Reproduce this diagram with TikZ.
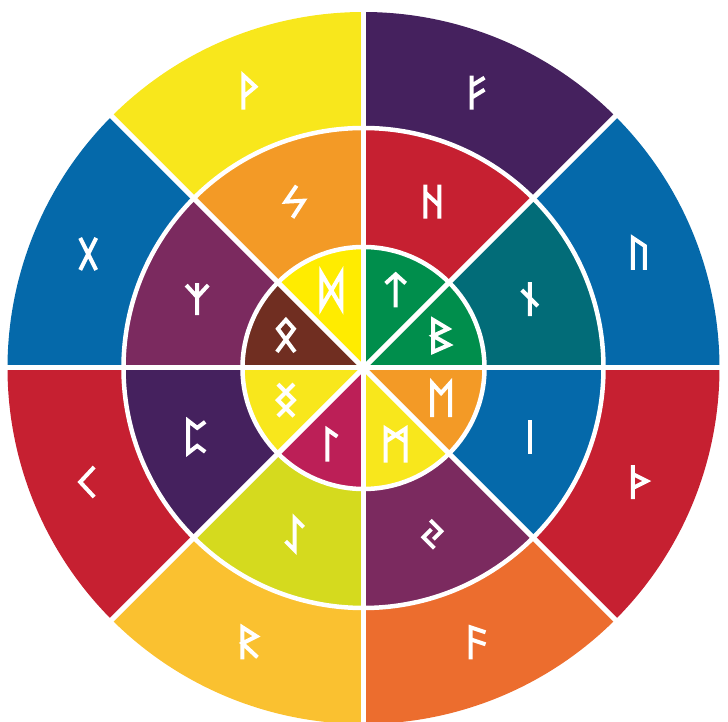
\documentclass[tikz,border=0pt]{standalone}
\usepackage{tikz}
\usepackage{xcolor}

\definecolor{runeyellow}{HTML}{F8E71C}
\definecolor{runesun}{HTML}{FFEC00}
\definecolor{runeplum}{HTML}{45215E}
\definecolor{runeblue}{HTML}{0569AA}
\definecolor{runered}{HTML}{C62031}
\definecolor{runeorange}{HTML}{EC6D2E}
\definecolor{runegold}{HTML}{FAC130}
\definecolor{runeteal}{HTML}{026C78}
\definecolor{runepurple}{HTML}{7B2A5F}
\definecolor{runelime}{HTML}{D5DA1E}
\definecolor{runeamber}{HTML}{F39A26}
\definecolor{runegreen}{HTML}{008E4C}
\definecolor{runemagenta}{HTML}{BC1F57}
\definecolor{runebrown}{HTML}{702E21}

\tikzset{
  rune/.style={draw=white, line width=4pt, line join=miter},
  gap/.style={draw=white, line width=5pt},
  % first aett
  fehu/.pic={\draw[rune] (-6,-17) -- (-6,17) (-6,7) -- (7,15) (-6,-5) -- (7,3);},
  uruz/.pic={\draw[rune] (-6,-16) -- (-6,16) -- (6,8) -- (6,-16);},
  thurisaz/.pic={\draw[rune] (-6,-17) -- (-6,17) (-6,8) -- (8,1) -- (-6,-6);},
  ansuz/.pic={\draw[rune] (-7,-16) -- (-7,16) -- (8,11) (-7,4) -- (8,-1);},
  raidho/.pic={\draw[rune] (-7,-16) -- (-7,16) -- (7,7) -- (-7,0) -- (8,-14);},
  kaunan/.pic={\draw[rune] (6,15) -- (-8,0) -- (6,-15);},
  gebo/.pic={\draw[rune] (-8,16) -- (8,-16) (8,16) -- (-8,-16);},
  wunjo/.pic={\draw[rune] (-6,-17) -- (-6,17) -- (6,6) -- (-6,-4);},
  % second aett
  hagalaz/.pic={\draw[rune] (-7,-17) -- (-7,17) (7,-17) -- (7,17) (-7,9) -- (7,-4);},
  naudiz/.pic={\draw[rune] (0,-17) -- (0,17) (-8,9) -- (8,-7);},
  isaz/.pic={\draw[rune] (0,-17) -- (0,17);},
  jera/.pic={\draw[rune] (-2,14) -- (9,3) -- (1,-5) (-1,5) -- (-9,-3) -- (2,-14);},
  eihwaz/.pic={\draw[rune] (-9,-7) -- (0,-16) -- (0,16) -- (9,7);},
  perthro/.pic={\draw[rune] (8,15) -- (0,9) -- (-9,16) -- (-9,-16) -- (0,-9) -- (8,-15);},
  algiz/.pic={\draw[rune] (0,-16) -- (0,16) (-11,14) -- (0,2) -- (11,14);},
  sowilo/.pic={\draw[rune] (2,16) -- (-9,0) -- (9,1) -- (-2,-16);},
  % third aett
  tiwaz/.pic={\draw[rune] (0,-17) -- (0,16) (-10,7) -- (0,16) -- (10,7);},
  berkanan/.pic={\draw[rune] (-8,-16) -- (-8,16) -- (7,7) -- (-8,0) -- (8,-9) -- cycle;},
  ehwaz/.pic={\draw[rune] (-9,-17) -- (-9,17) -- (0,7) -- (9,17) -- (9,-17);},
  mannaz/.pic={\draw[rune] (-10,-17) -- (-10,17) -- (10,4) (10,-17) -- (10,17) -- (-10,4);},
  laguz/.pic={\draw[rune] (-4,-16) -- (-4,16) -- (6,9);},
  ingwaz/.pic={\draw[rune] (-8,16) -- (8,0) -- (-8,-16) (8,16) -- (-8,0) -- (8,-16);},
  othala/.pic={\draw[rune] (-9,-16) -- (8,7) -- (0,16) -- (-8,7) -- (9,-16);},
  dagaz/.pic={\draw[rune] (-10,-17) -- (-10,17) -- (10,-17) -- (10,17) -- cycle;},
}

\begin{document}
\begin{tikzpicture}[x=1pt, y=1pt]
    \useasboundingbox (-363.5,-354) rectangle (364.5,368);
    \coordinate (hub) at (0,0);
    % Outer ring
    \foreach \a/\c/\r in {45/runeplum/fehu, 0/runeblue/uruz, -45/runered/thurisaz, -90/runeorange/ansuz,
                          -135/runegold/raidho, 180/runered/kaunan, 135/runeblue/gebo, 90/runeyellow/wunjo} {
        \fill[\c] (hub) -- (\a:356) arc[start angle=\a, delta angle=45, radius=356] -- cycle;
        \pic at ({\a+22.5}:298) {\r};
    }
    % Middle ring
    \foreach \a/\c/\r in {45/runered/hagalaz, 0/runeteal/naudiz, -45/runeblue/isaz, -90/runepurple/jera,
                          -135/runelime/eihwaz, 180/runeplum/perthro, 135/runepurple/algiz, 90/runeamber/sowilo} {
        \fill[\c] (hub) -- (\a:240) arc[start angle=\a, delta angle=45, radius=240] -- cycle;
        \pic at ({\a+22.5}:180) {\r};
    }
    % Inner circle
    \foreach \a/\c/\r in {45/runegreen/tiwaz, 0/runegreen/berkanan, -45/runeamber/ehwaz, -90/runeyellow/mannaz,
                          -135/runemagenta/laguz, 180/runeyellow/ingwaz, 135/runebrown/othala, 90/runesun/dagaz} {
        \fill[\c] (hub) -- (\a:121) arc[start angle=\a, delta angle=45, radius=121] -- cycle;
        \pic at ({\a+22.5}:84) {\r};
    }
    % White gaps
    \foreach \a in {0,45,...,315}
        \draw[gap] (hub) -- (\a:362);
    \draw[gap, line width=4.5pt] (hub) circle (121) (hub) circle (240);
\end{tikzpicture}
\end{document}
